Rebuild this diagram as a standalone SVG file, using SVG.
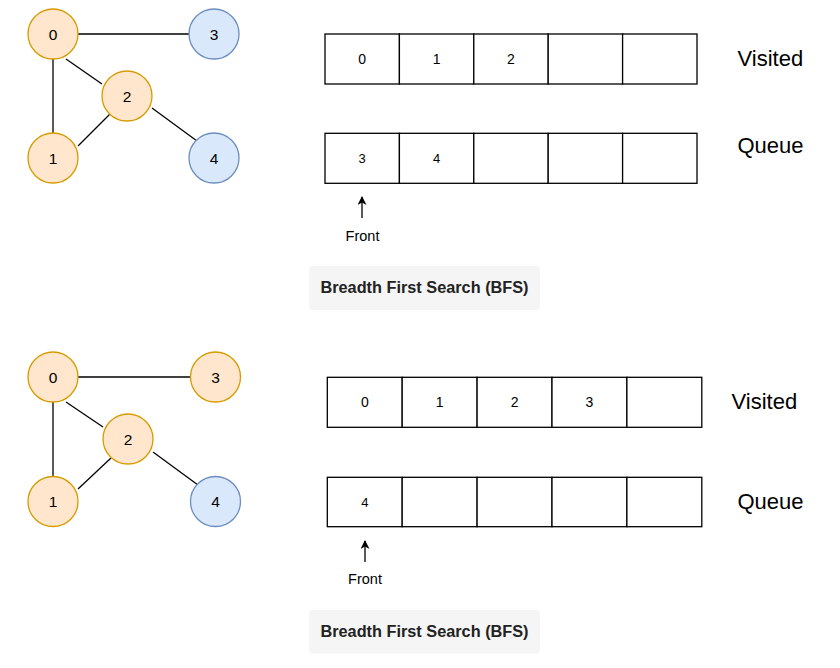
<svg xmlns="http://www.w3.org/2000/svg" width="840" height="668" viewBox="0 0 840 668">
<style>
.on{fill:#ffe6cc;stroke:#d79b00;stroke-width:1.3}
.bn{fill:#dae8fc;stroke:#6c8ebf;stroke-width:1.3}
.nt{font-family:"Liberation Sans",Arial,sans-serif;font-size:15.5px;fill:#000;text-anchor:middle}
.edge{stroke:#000;stroke-width:1.3;fill:none}
.cell{fill:#fff;stroke:#000;stroke-width:1.3}
.ct{font-family:"Liberation Sans",Arial,sans-serif;font-size:14px;fill:#000;text-anchor:middle}
.qt{font-family:"Liberation Sans",Arial,sans-serif;font-size:13px;fill:#000;text-anchor:middle}
.lbl{font-family:"Liberation Sans",Arial,sans-serif;font-size:22px;fill:#000}
.fr{font-family:"Liberation Sans",Arial,sans-serif;font-size:14.5px;fill:#000;text-anchor:middle}
.cap{fill:#f5f5f5}
.capt{font-family:"Liberation Sans",Arial,sans-serif;font-size:16.3px;font-weight:bold;fill:#222;text-anchor:middle}
</style>
<defs>
<marker id="ah" viewBox="0 0 10 10" refX="9" refY="5" markerWidth="11" markerHeight="9" markerUnits="userSpaceOnUse" orient="auto">
<path d="M0,0 L10,5 L0,10 L3,5 Z" fill="#000"/>
</marker>
</defs>
<rect width="840" height="668" fill="#fff"/>

<g id="connectors">
<line class="edge" x1="78" y1="34" x2="189" y2="34"/>
<line class="edge" x1="53" y1="59" x2="53" y2="133"/>
<line class="edge" x1="66" y1="59" x2="102" y2="84"/>
<line class="edge" x1="110" y1="114" x2="78" y2="146"/>
<line class="edge" x1="152" y1="108" x2="197" y2="141"/>
<line class="edge" x1="78" y1="377" x2="191" y2="377"/>
<line class="edge" x1="53" y1="402" x2="53" y2="477"/>
<line class="edge" x1="66" y1="402" x2="103" y2="427"/>
<line class="edge" x1="111" y1="458" x2="78" y2="489"/>
<line class="edge" x1="153" y1="452" x2="198" y2="485"/>
<line class="edge" x1="362" y1="218" x2="362" y2="197" marker-end="url(#ah)"/>
<line class="edge" x1="365" y1="562" x2="365" y2="541" marker-end="url(#ah)"/>
</g>

<g id="top-node-0"><circle class="on" cx="53" cy="34" r="25"/><text class="nt" x="53" y="39.5">0</text></g>
<g id="top-node-3"><circle class="bn" cx="214" cy="34" r="25"/><text class="nt" x="214" y="39.5">3</text></g>
<g id="top-node-2"><circle class="on" cx="127" cy="96" r="25"/><text class="nt" x="127" y="101.5">2</text></g>
<g id="top-node-1"><circle class="on" cx="53" cy="158" r="25"/><text class="nt" x="53" y="163.5">1</text></g>
<g id="top-node-4"><circle class="bn" cx="214" cy="158" r="25"/><text class="nt" x="214" y="163.5">4</text></g>

<g id="bot-node-0"><circle class="on" cx="53" cy="377" r="25"/><text class="nt" x="53" y="382.5">0</text></g>
<g id="bot-node-3"><circle class="on" cx="215.5" cy="377" r="25"/><text class="nt" x="215.5" y="382.5">3</text></g>
<g id="bot-node-2"><circle class="on" cx="128" cy="439" r="25"/><text class="nt" x="128" y="444.5">2</text></g>
<g id="bot-node-1"><circle class="on" cx="53" cy="501.5" r="25"/><text class="nt" x="53" y="507">1</text></g>
<g id="bot-node-4"><circle class="bn" cx="215.5" cy="501.5" r="25"/><text class="nt" x="215.5" y="507">4</text></g>

<g id="top-visited">
<rect class="cell" x="325" y="34" width="74.4" height="50"/>
<rect class="cell" x="399.4" y="34" width="74.4" height="50"/>
<rect class="cell" x="473.8" y="34" width="74.4" height="50"/>
<rect class="cell" x="548.2" y="34" width="74.4" height="50"/>
<rect class="cell" x="622.6" y="34" width="74.4" height="50"/>
<text class="ct" x="362.2" y="64">0</text>
<text class="ct" x="436.6" y="64">1</text>
<text class="ct" x="511" y="64">2</text>
</g>
<g id="top-queue">
<rect class="cell" x="325" y="133.3" width="74.4" height="50"/>
<rect class="cell" x="399.4" y="133.3" width="74.4" height="50"/>
<rect class="cell" x="473.8" y="133.3" width="74.4" height="50"/>
<rect class="cell" x="548.2" y="133.3" width="74.4" height="50"/>
<rect class="cell" x="622.6" y="133.3" width="74.4" height="50"/>
<text class="qt" x="362.2" y="162.5">3</text>
<text class="qt" x="436.6" y="162.5">4</text>
</g>
<text class="lbl" x="737.5" y="65.5">Visited</text>
<text class="lbl" x="737.5" y="152.7">Queue</text>
<text class="fr" x="362.5" y="240.7">Front</text>

<g id="top-caption">
<rect class="cap" x="309" y="266" width="231" height="44" rx="4"/>
<text class="capt" x="424.5" y="293.3">Breadth First Search (BFS)</text>
</g>

<g id="bot-visited">
<rect class="cell" x="327.3" y="377.3" width="74.9" height="50"/>
<rect class="cell" x="402.2" y="377.3" width="74.9" height="50"/>
<rect class="cell" x="477.1" y="377.3" width="74.9" height="50"/>
<rect class="cell" x="552" y="377.3" width="74.9" height="50"/>
<rect class="cell" x="626.9" y="377.3" width="74.9" height="50"/>
<text class="ct" x="364.8" y="407">0</text>
<text class="ct" x="439.7" y="407">1</text>
<text class="ct" x="514.6" y="407">2</text>
<text class="ct" x="589.5" y="407">3</text>
</g>
<g id="bot-queue">
<rect class="cell" x="327.3" y="477.3" width="74.9" height="49.4"/>
<rect class="cell" x="402.2" y="477.3" width="74.9" height="49.4"/>
<rect class="cell" x="477.1" y="477.3" width="74.9" height="49.4"/>
<rect class="cell" x="552" y="477.3" width="74.9" height="49.4"/>
<rect class="cell" x="626.9" y="477.3" width="74.9" height="49.4"/>
<text class="qt" x="364.8" y="506.5">4</text>
</g>
<text class="lbl" x="731.5" y="408.5">Visited</text>
<text class="lbl" x="737.5" y="508.5">Queue</text>
<text class="fr" x="365" y="584">Front</text>

<g id="bot-caption">
<rect class="cap" x="309" y="610" width="231" height="43.5" rx="4"/>
<text class="capt" x="424.5" y="637.3">Breadth First Search (BFS)</text>
</g>
</svg>
